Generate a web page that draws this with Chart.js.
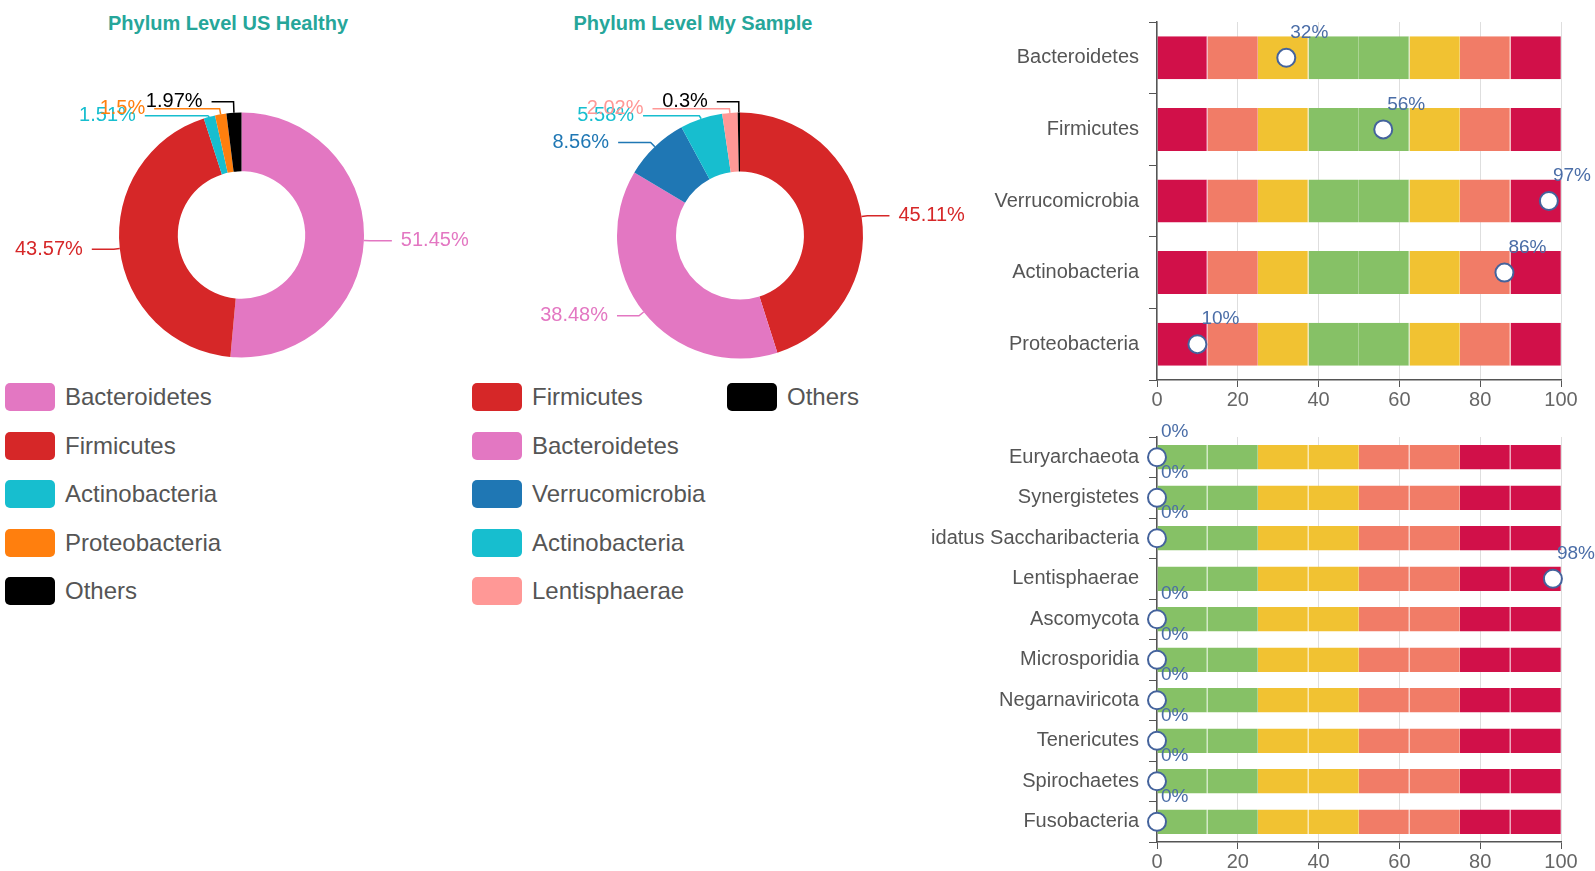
<!DOCTYPE html>
<html>
<head>
<meta charset="utf-8">
<title>Phylum Level</title>
<script src="https://cdn.jsdelivr.net/npm/chart.js@4.4.1/dist/chart.umd.min.js"></script>
<style>
  body { margin: 0; background: #fff; font-family: "Liberation Sans", Arial, sans-serif; }
  #page { position: relative; width: 1595px; height: 871px; overflow: hidden; }
  canvas { position: absolute; }
  .title { position: absolute; top: 11px; font-size: 20px; line-height: 24px; font-weight: bold; color: #26a69a; white-space: nowrap; transform: translateX(-50%); }
  .legend { position: absolute; top: 372.7px; display: grid; grid-template-rows: repeat(5, 48.6px); grid-auto-flow: column; }
  .legend .item { display: flex; align-items: center; font-size: 24px; color: #555; white-space: nowrap; }
  .legend .swatch { width: 50px; height: 28px; border-radius: 5px; margin-right: 10px; }
</style>
</head>
<body>
<div id="page">
  <div class="title" style="left:228px">Phylum Level US Healthy</div>
  <div class="title" style="left:693px">Phylum Level My Sample</div>
  <canvas id="usChart" width="480" height="372" style="left:0;top:0"></canvas>
  <canvas id="myChart" width="500" height="372" style="left:480px;top:0"></canvas>
  <div id="usLegend" class="legend" style="left:5px"></div>
  <div id="myLegend" class="legend" style="left:472px;grid-template-columns:255px auto"></div>
  <canvas id="mainChart" width="635" height="412" style="left:960px;top:0"></canvas>
  <canvas id="minorChart" width="665" height="459" style="left:930px;top:412px"></canvas>
</div>
<script>
// phylum shares, reference population
const usLabels = ["Bacteroidetes", "Firmicutes", "Actinobacteria", "Proteobacteria", "Others"];
const usValues = [51.45, 43.57, 1.51, 1.5, 1.97];
const usColors = ["#e377c2", "#d62728", "#17becf", "#ff7f0e", "#000000"];

// phylum shares, sample
const myLabels = ["Firmicutes", "Bacteroidetes", "Verrucomicrobia", "Actinobacteria", "Lentisphaerae", "Others"];
const myValues = [45.11, 38.48, 8.56, 5.58, 2.02, 0.3];
const myColors = ["#d62728", "#e377c2", "#1f77b4", "#17becf", "#ff9896", "#000000"];

// percentile scores
const mainPhyla = ["Bacteroidetes", "Firmicutes", "Verrucomicrobia", "Actinobacteria", "Proteobacteria"];
const mainScores = [32, 56, 97, 86, 10];
const minorPhyla = ["Euryarchaeota", "Synergistetes", "Candidatus Saccharibacteria", "Lentisphaerae", "Ascomycota",
                    "Microsporidia", "Negarnaviricota", "Tenericutes", "Spirochaetes", "Fusobacteria"];
const minorScores = [0, 0, 0, 98, 0, 0, 0, 0, 0, 0];

// background bands behind each bar, left to right
const bandWidths = [12.5, 12.5, 12.5, 12.5, 12.5, 12.5, 12.5, 12.5];
const mainBands = ["bad", "poor", "fair", "good", "good", "fair", "poor", "bad"];
const minorBands = ["good", "good", "fair", "fair", "poor", "poor", "bad", "bad"];
const scoreAxisMax = 100;
const scoreAxisStep = 20;

const bandColors = { bad: "#d11049", poor: "#f17c67", fair: "#f1c232", good: "#86c166" };
const markerColor = "#44639c";
const labelColor = "#4a6da7";

Chart.defaults.font.family = "'Liberation Sans', Arial, sans-serif";
Chart.defaults.font.size = 20;
Chart.defaults.color = "#555";

function lighten(hex, t) {
    const n = parseInt(hex.slice(1), 16);
    const c = [n >> 16, (n >> 8) & 255, n & 255].map(v => Math.round(v + (255 - v) * t));
    return "rgb(" + c.join(",") + ")";
}

function buildLegend(id, labels, colors) {
    const el = document.getElementById(id);
    labels.forEach((label, i) => {
        const item = document.createElement("div");
        item.className = "item";
        const sw = document.createElement("span");
        sw.className = "swatch";
        sw.style.background = colors[i];
        item.appendChild(sw);
        item.appendChild(document.createTextNode(label));
        el.appendChild(item);
    });
}

// outside labels with leader lines
const LINE_RADIAL = 6, LINE_FLAT = 22, TEXT_GAP = 9, ROW_GAP = 7;

function groupTop(g) {
    return g.sum / g.items.length - (g.items.length - 1) * ROW_GAP / 2;
}

function spreadLabels(list) {
    list.sort((a, b) => a.y - b.y);
    let groups = list.map(it => ({ items: [it], sum: it.y }));
    let moved = true;
    while (moved) {
        moved = false;
        for (let k = 0; k < groups.length - 1; k++) {
            const a = groups[k], b = groups[k + 1];
            const aEnd = groupTop(a) + (a.items.length - 1) * ROW_GAP;
            if (groupTop(b) - aEnd < ROW_GAP) {
                groups.splice(k, 2, { items: a.items.concat(b.items), sum: a.sum + b.sum });
                moved = true;
                break;
            }
        }
    }
    groups.forEach(g => {
        const top = groupTop(g);
        g.items.forEach((it, n) => { it.y = top + n * ROW_GAP; });
    });
}

// spread the crowded labels outward along an ellipse; the outermost one stays put
function placeOnCurve(list, cx, cy, rA) {
    [list.filter(it => it.y < cy), list.filter(it => it.y >= cy)].forEach(semi => {
        if (semi.length < 2) return;
        const far = semi.reduce((m, it) => Math.abs(it.y - cy) > Math.abs(m.y - cy) ? it : m);
        const rB = Math.abs(far.y - cy) * 1.1;
        semi.forEach(it => {
            if (it === far) return;
            const dy = Math.abs(it.y - cy);
            const dx = rA * Math.sqrt(Math.max(0, 1 - dy * dy / (rB * rB)));
            it.endX = cx + it.dir * (dx + LINE_FLAT);
        });
    });
}

const sliceLabels = {
    id: "sliceLabels",
    afterDatasetsDraw(chart) {
        const ctx = chart.ctx;
        const ds = chart.data.datasets[0];
        const meta = chart.getDatasetMeta(0);
        let cx = 0, cy = 0, r = 0;
        const items = meta.data.map((arc, i) => {
            const p = arc.getProps(["x", "y", "startAngle", "endAngle", "outerRadius"], true);
            const mid = (p.startAngle + p.endAngle) / 2;
            const cos = Math.cos(mid), sin = Math.sin(mid);
            cx = p.x; cy = p.y; r = p.outerRadius;
            return {
                dir: cos >= 0 ? 1 : -1,
                ax: p.x + cos * r, ay: p.y + sin * r,
                ex: p.x + cos * (r + LINE_RADIAL),
                y: p.y + sin * (r + LINE_RADIAL),
                text: ds.data[i] + "%",
                color: ds.backgroundColor[i]
            };
        });
        [1, -1].forEach(dir => {
            const side = items.filter(it => it.dir === dir);
            side.forEach(it => { it.endX = it.ex + dir * LINE_FLAT; });
            if (side.length < 2) return;
            spreadLabels(side);
            placeOnCurve(side, cx, cy, r + LINE_RADIAL);
        });

        ctx.save();
        ctx.lineWidth = 1.5;
        ctx.font = "20px 'Liberation Sans', Arial, sans-serif";
        ctx.textBaseline = "middle";
        items.forEach(it => {
            const endX = it.dir > 0 ? Math.max(it.endX, it.ex) : Math.min(it.endX, it.ex);
            ctx.strokeStyle = it.color;
            ctx.beginPath();
            ctx.moveTo(it.ax, it.ay);
            ctx.lineTo(it.ex, it.y);
            ctx.lineTo(endX, it.y);
            ctx.stroke();
            ctx.fillStyle = it.color;
            ctx.textAlign = it.dir > 0 ? "left" : "right";
            ctx.fillText(it.text, endX + it.dir * TEXT_GAP, it.y);
        });
        ctx.restore();
    }
};

function donut(id, labels, values, colors, padding) {
    return new Chart(document.getElementById(id), {
        type: "doughnut",
        data: {
            labels: labels,
            datasets: [{ data: values, backgroundColor: colors, borderWidth: 0 }]
        },
        options: {
            responsive: false,
            animation: false,
            events: [],
            cutout: "52%",
            layout: { padding: padding },
            plugins: { legend: { display: false }, tooltip: { enabled: false } }
        },
        plugins: [sliceLabels]
    });
}

// "nn%" above each marker
const scoreLabels = {
    id: "scoreLabels",
    afterDatasetsDraw(chart) {
        const idx = chart.data.datasets.findIndex(d => d.type === "line");
        const values = chart.data.datasets[idx].data;
        const ctx = chart.ctx;
        ctx.save();
        ctx.font = "19px 'Liberation Sans', Arial, sans-serif";
        ctx.fillStyle = labelColor;
        ctx.textAlign = "left";
        ctx.textBaseline = "middle";
        chart.getDatasetMeta(idx).data.forEach((pt, i) => {
            ctx.fillText(values[i] + "%", pt.x + 4, pt.y - 25);
        });
        ctx.restore();
    }
};

function scoreChart(id, categories, scores, bands, fit) {
    const datasets = bands.map((name, b) => ({
        type: "bar",
        data: categories.map(() => bandWidths[b]),
        backgroundColor: bandColors[name],
        borderColor: lighten(bandColors[name], 0.3),
        borderWidth: { top: 0, right: 1, bottom: 0, left: 0 },
        borderSkipped: false,
        categoryPercentage: 0.6,
        barPercentage: 1,
        order: 1
    }));
    datasets.push({
        type: "line",
        indexAxis: "y",
        data: scores,
        showLine: false,
        pointRadius: 9,
        pointBackgroundColor: "#fff",
        pointBorderColor: markerColor,
        pointBorderWidth: 2,
        clip: false,
        order: 0
    });
    return new Chart(document.getElementById(id), {
        type: "bar",
        data: { labels: categories, datasets: datasets },
        options: {
            indexAxis: "y",
            responsive: false,
            animation: false,
            events: [],
            layout: { padding: { left: 0, top: fit.top, right: 34, bottom: 0 } },
            plugins: { legend: { display: false }, tooltip: { enabled: false } },
            scales: {
                x: {
                    stacked: true,
                    min: 0,
                    max: scoreAxisMax,
                    ticks: { stepSize: scoreAxisStep, color: "#666", padding: 1 },
                    grid: { color: "#dedede", tickColor: "#555", tickLength: 7 },
                    border: { color: "#555", width: 1.5 },
                    afterFit: axis => { axis.height = fit.xHeight; }
                },
                y: {
                    stacked: true,
                    ticks: { color: "#555", padding: 10 },
                    grid: { drawOnChartArea: false, tickColor: "#555", tickLength: 8, offset: true },
                    border: { color: "#555", width: 1.5 },
                    afterFit: axis => { axis.width = fit.yWidth; }
                }
            }
        },
        plugins: [scoreLabels]
    });
}

buildLegend("usLegend", usLabels, usColors);
buildLegend("myLegend", myLabels, myColors);

donut("usChart", usLabels, usValues, usColors, { left: 119, top: 112.5, right: 116, bottom: 14.5 });
donut("myChart", myLabels, myValues, myColors, { left: 137, top: 112.5, right: 117, bottom: 13.5 });

scoreChart("mainChart", mainPhyla, mainScores, mainBands, { top: 22, xHeight: 32, yWidth: 197 });
scoreChart("minorChart", minorPhyla, minorScores, minorBands, { top: 25, xHeight: 29, yWidth: 227 });
</script>
</body>
</html>
